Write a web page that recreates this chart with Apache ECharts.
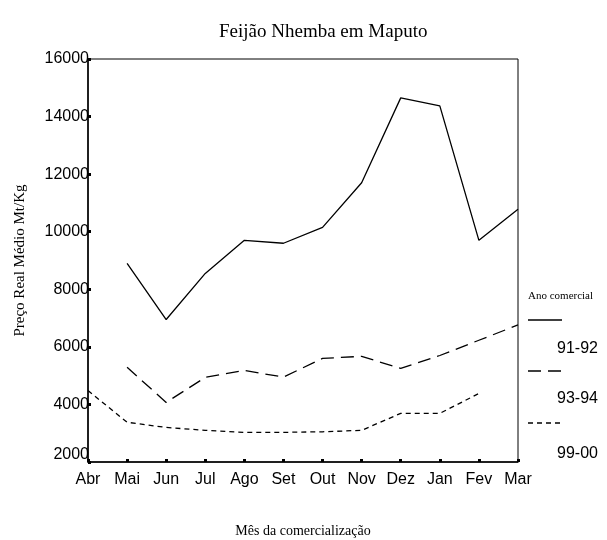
<!DOCTYPE html>
<html>
<head>
<meta charset="utf-8">
<script src="https://cdn.jsdelivr.net/npm/echarts@6/dist/echarts.min.js"></script>
<style>
  html, body { margin: 0; padding: 0; background: #fff; }
  #chart { width: 607px; height: 540px; }
</style>
</head>
<body>
<div id="chart"></div>
<script>
// meses e valores
const meses = ["Abr", "Mai", "Jun", "Jul", "Ago", "Set", "Out", "Nov", "Dez", "Jan", "Fev", "Mar"];
const ano9192 = [null, 8900, 6950, 8550, 9700, 9600, 10150, 11700, 14650, 14370, 9700, 10780];
const ano9394 = [null, 5290, 4070, 4940, 5180, 4950, 5600, 5670, 5250, 5700, 6230, 6760];
const ano9900 = [4480, 3380, 3200, 3100, 3030, 3030, 3050, 3100, 3690, 3690, 4380, null];
const anos = ["91-92", "93-94", "99-00"];
const yTicks = [2000, 4000, 6000, 8000, 10000, 12000, 14000, 16000];

const chart = echarts.init(document.getElementById("chart"));

const serif = "'Liberation Serif', 'Times New Roman', serif";
const sans = "'Liberation Sans', Arial, sans-serif";

// estilos das linhas (sólida, tracejado longo, tracejado curto)
const estilos = [
  { type: "solid" },
  { type: [13, 7] },
  { type: [5, 4] },
];

chart.setOption({
  animation: false,
  title: {
    text: "Feijão Nhemba em Maputo",
    left: 214,
    top: 18,
    textStyle: { fontFamily: serif, fontSize: 19, fontWeight: "normal", color: "#000" },
  },
  grid: {
    left: 88,
    right: 89,
    top: 59,
    bottom: 78,
    outerBoundsMode: "none",
    show: true,
    borderColor: "#000",
    borderWidth: 1,
    backgroundColor: "transparent",
  },
  xAxis: {
    type: "category",
    data: meses,
    boundaryGap: false,
    name: "Mês da comercialização",
    nameLocation: "middle",
    nameGap: 62,
    nameTextStyle: { fontFamily: serif, fontSize: 14, color: "#000" },
    axisLine: { lineStyle: { color: "#000", width: 1.5 } },
    axisTick: { inside: true, length: 3, lineStyle: { color: "#000", width: 3 } },
    axisLabel: { fontFamily: sans, fontSize: 16, color: "#000", margin: 10, interval: 0 },
    splitLine: { show: false },
  },
  yAxis: {
    type: "value",
    min: 2000,
    max: 16000,
    interval: 2000,
    name: "Preço Real Médio Mt/Kg",
    nameLocation: "middle",
    nameGap: 60,
    nameTextStyle: { fontFamily: serif, fontSize: 15, color: "#000" },
    axisLine: { show: true, lineStyle: { color: "#000", width: 1.5 } },
    axisTick: { show: true, inside: true, length: 3, lineStyle: { color: "#000", width: 3 } },
    axisLabel: {
      fontFamily: sans,
      fontSize: 16,
      color: "#000",
      margin: -1,
      formatter: (v) => (v === yTicks[0] ? "{b|" + v + "}" : String(v)),
      rich: { b: { fontFamily: sans, fontSize: 16, color: "#000", padding: [0, 0, 14, 0] } },
    },
    splitLine: { show: false },
  },
  series: [ano9192, ano9394, ano9900].map((d, i) => ({
    name: anos[i],
    type: "line",
    data: d,
    symbol: "none",
    connectNulls: false,
    lineStyle: Object.assign({ color: "#000", width: 1.3 }, estilos[i]),
  })),
  graphic: [
    { type: "text", left: 528, top: 291, style: { text: "Ano comercial", font: "11px " + serif, fill: "#000" } },
    { type: "line", shape: { x1: 528, y1: 320, x2: 562, y2: 320 }, style: { stroke: "#000", lineWidth: 1.3 } },
    { type: "text", left: 557, top: 341, style: { text: anos[0], font: "16px " + sans, fill: "#000" } },
    { type: "line", shape: { x1: 528, y1: 371, x2: 562, y2: 371 }, style: { stroke: "#000", lineWidth: 1.3, lineDash: [13, 7] } },
    { type: "text", left: 557, top: 391, style: { text: anos[1], font: "16px " + sans, fill: "#000" } },
    { type: "line", shape: { x1: 528, y1: 423, x2: 562, y2: 423 }, style: { stroke: "#000", lineWidth: 1.3, lineDash: [5, 4] } },
    { type: "text", left: 557, top: 446, style: { text: anos[2], font: "16px " + sans, fill: "#000" } },
  ],
});
</script>
</body>
</html>
